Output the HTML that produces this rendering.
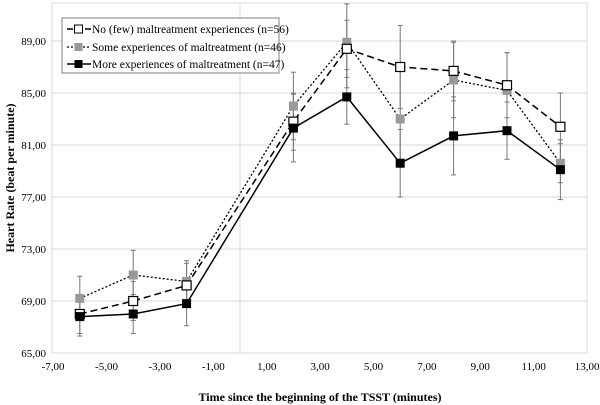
<!DOCTYPE html>
<html><head><meta charset="utf-8"><style>
html,body{margin:0;padding:0;background:#fff;}
svg{display:block;font-family:"Liberation Serif",serif;}
</style></head><body>
<svg id="s" width="600" height="405" viewBox="0 0 600 405" xmlns="http://www.w3.org/2000/svg">
<rect x="52" y="3" width="535" height="350" fill="#fff" stroke="#d9d9d9" stroke-width="1"/>
<g id="grid" stroke="#d9d9d9" stroke-width="1"></g>
<g id="labels" font-size="11" fill="#000"></g>
<g id="data"></g>
<text x="320" y="401" font-size="12" font-weight="bold" text-anchor="middle">Time since the beginning of the TSST (minutes)</text>
<text transform="translate(14,178) rotate(-90)" font-size="12" font-weight="bold" text-anchor="middle">Heart Rate (beat per minute)</text>
<rect x="62" y="18" width="217" height="55" fill="#fff" stroke="#7f7f7f" stroke-width="1"/>
<line x1="67" y1="29" x2="91" y2="29" stroke="#000" stroke-width="1.5" stroke-dasharray="6,3"/>
<rect x="74.5" y="25" width="8" height="8" fill="#fff" stroke="#000"/>
<text x="92" y="33" font-size="11.5">No (few) maltreatment experiences (n=56)</text>
<line x1="67" y1="47" x2="91" y2="47" stroke="#000" stroke-width="1.3" stroke-dasharray="2,2"/>
<rect x="74.5" y="43" width="8" height="8" fill="#999"/>
<text x="92" y="51" font-size="11.5">Some experiences of maltreatment (n=46)</text>
<line x1="67" y1="64" x2="91" y2="64" stroke="#000" stroke-width="1.5"/>
<rect x="74.5" y="60" width="8" height="8" fill="#000"/>
<text x="92" y="68" font-size="11.5">More experiences of maltreatment (n=47)</text>
</svg>
<script>
const NS="http://www.w3.org/2000/svg";
const px=x=>240+26.7*x, py=y=>353-13*(y-65);
function el(p,t,a,txt){const e=document.createElementNS(NS,t);for(const k in a)e.setAttribute(k,a[k]);if(txt!==undefined)e.textContent=txt;p.appendChild(e);return e;}
const g=document.getElementById('grid'),L=document.getElementById('labels'),D=document.getElementById('data');
for(let y=69;y<=89;y+=4)el(g,'line',{x1:52,x2:587,y1:py(y),y2:py(y)});
el(g,'line',{x1:240,x2:240,y1:3,y2:353});
for(let y=65;y<=89;y+=4)el(L,'text',{x:46,y:py(y)+4,'text-anchor':'end'},y+',00');
for(let x=-7;x<=13;x+=2)el(L,'text',{x:px(x),y:370,'text-anchor':'middle'},x.toFixed(2).replace('.',','));
const xs=[-6,-4,-2,2,4,6,8,10,12];
const S=[
 {y:[69.2,71.0,70.5,84.0,88.9,83.0,86.0,85.2,79.6],e:[1.7,1.9,1.6,2.6,3.5,3.7,2.9,2.9,1.5],fill:'#999',stroke:'none',dash:'2,2',w:1.3},
 {y:[68.0,69.0,70.2,82.8,88.4,87.0,86.7,85.6,82.4],e:[1.5,1.5,1.7,2.2,2.2,3.2,2.3,2.5,2.6],fill:'#fff',stroke:'#000',dash:'7,4',w:1.5},
 {y:[67.8,68.0,68.8,82.3,84.7,79.6,81.7,82.1,79.1],e:[1.5,1.5,1.7,2.6,2.1,2.6,3.0,2.2,2.3],fill:'#000',stroke:'none',dash:'',w:1.5}
];
S.forEach(s=>{xs.forEach((x,i)=>{const X=px(x),a=py(s.y[i]-s.e[i]),b=Math.max(4,py(s.y[i]+s.e[i]));
 el(D,'line',{x1:X,x2:X,y1:a,y2:b,stroke:'#777','stroke-width':1});
 el(D,'line',{x1:X-2.5,x2:X+2.5,y1:a,y2:a,stroke:'#777'});el(D,'line',{x1:X-2.5,x2:X+2.5,y1:b,y2:b,stroke:'#777'});});});
S.forEach(s=>{el(D,'polyline',{points:xs.map((x,i)=>px(x)+','+py(s.y[i])).join(' '),fill:'none',stroke:'#000','stroke-width':s.w,'stroke-dasharray':s.dash});});
S.forEach(s=>{xs.forEach((x,i)=>{el(D,'rect',{x:px(x)-4.5,y:py(s.y[i])-4.5,width:9,height:9,fill:s.fill,stroke:s.stroke,'stroke-width':1.2});});});
</script>
</body></html>
